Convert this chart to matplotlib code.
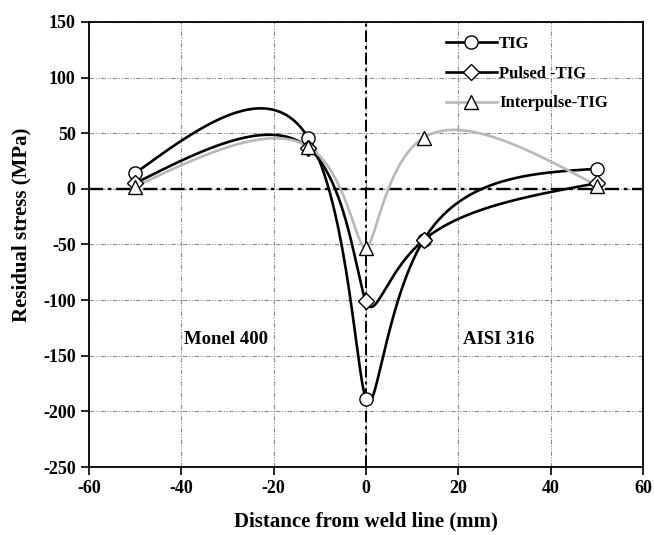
import numpy as np
import matplotlib
matplotlib.use("Agg")
import matplotlib.pyplot as plt
from matplotlib.lines import Line2D

# data
distance = [-50, -12.5, 0, 12.5, 50]
tig = [14, 46, -189, -46, 18]
pulsed_tig = [5, 37, -101, -46, 5]
interpulse_tig = [2, 38, -53, 46, 3]

plt.rcParams['font.family'] = ['Liberation Serif', 'DejaVu Serif']
plt.rcParams['font.weight'] = 'bold'
plt.rcParams['axes.unicode_minus'] = False


def natural_spline(t, v, tt):
    # natural cubic spline of v(t), evaluated at tt
    t = np.asarray(t, float)
    v = np.asarray(v, float)
    n = len(t)
    h = np.diff(t)
    A = np.zeros((n, n))
    r = np.zeros(n)
    A[0, 0] = A[-1, -1] = 1
    for i in range(1, n - 1):
        A[i, i - 1] = h[i - 1]
        A[i, i] = 2 * (h[i - 1] + h[i])
        A[i, i + 1] = h[i]
        r[i] = 6 * ((v[i + 1] - v[i]) / h[i] - (v[i] - v[i - 1]) / h[i - 1])
    M = np.linalg.solve(A, r)
    idx = np.clip(np.searchsorted(t, tt) - 1, 0, n - 2)
    a = t[idx + 1] - tt
    b = tt - t[idx]
    hi = h[idx]
    return ((M[idx] * a**3 + M[idx + 1] * b**3) / (6 * hi)
            + (v[idx] / hi - M[idx] * hi / 6) * a
            + (v[idx + 1] / hi - M[idx + 1] * hi / 6) * b)


def smooth_line(xs, ys):
    # parametric spline through the points (like the "smooth" connect option)
    t = np.arange(len(xs), dtype=float)
    tt = np.linspace(0, t[-1], 400)
    return natural_spline(t, xs, tt), natural_spline(t, ys, tt)


fig, ax = plt.subplots(figsize=(6.54, 5.35), dpi=100)
fig.subplots_adjust(left=0.136, right=0.983, top=0.959, bottom=0.127)

series = [
    (tig, 'TIG', 'black', 'o', 9.5),
    (pulsed_tig, 'Pulsed -TIG', 'black', 'D', 8.5),
    (interpulse_tig, 'Interpulse-TIG', '#b8b8b8', '^', 10),
]

handles = []
for vals, name, col, mk, ms in series:
    sx, sy = smooth_line(distance, vals)
    ax.plot(sx, sy, color=col, lw=1.9, zorder=3)
    ax.plot(distance, vals, linestyle='none', marker=mk, markersize=ms,
            markerfacecolor='white', markeredgecolor='black',
            markeredgewidth=1.0, zorder=4)
    handles.append(Line2D([], [], color=col, lw=1.9, marker=mk, markersize=ms,
                          markerfacecolor='white', markeredgecolor='black',
                          markeredgewidth=1.0, label=name))

ax.set_xlim(-60, 60)
ax.set_ylim(-250, 150)
ax.set_xticks(np.arange(-60, 61, 20))
ax.set_yticks(np.arange(-250, 151, 50))

ax.grid(True, color='#8a8a8a', linestyle=(0, (4, 1.5, 1, 1.5, 1, 1.5)), lw=0.8)
ax.axhline(0, color='black', linestyle=(0, (6, 2, 1.5, 2)), lw=1.7, zorder=2)
ax.axvline(0, color='black', linestyle=(0, (6, 2, 1.5, 2)), lw=1.4, zorder=2)

ax.text(-39.5, -135, 'Monel 400', fontsize=13.5, fontweight='bold', va='center')
ax.text(21, -135, 'AISI 316', fontsize=13.5, fontweight='bold', va='center')

ax.set_xlabel('Distance from weld line (mm)', fontsize=15, fontweight='bold', labelpad=10)
ax.set_ylabel('Residual stress (MPa)', fontsize=15, fontweight='bold')
ax.yaxis.set_label_coords(-0.104, 0.545)
ax.tick_params(labelsize=13, direction='out', length=6, width=1.2)
for lab in ax.get_xticklabels() + ax.get_yticklabels():
    lab.set_fontweight('bold')
for sp in ax.spines.values():
    sp.set_linewidth(1.3)

ax.legend(handles=handles, loc='upper right', bbox_to_anchor=(0.962, 1.0),
          frameon=False, fontsize=12, handlelength=3.1, handletextpad=0.1,
          labelspacing=0.82, borderaxespad=0.45)

fig.savefig('out.png', dpi=100)
